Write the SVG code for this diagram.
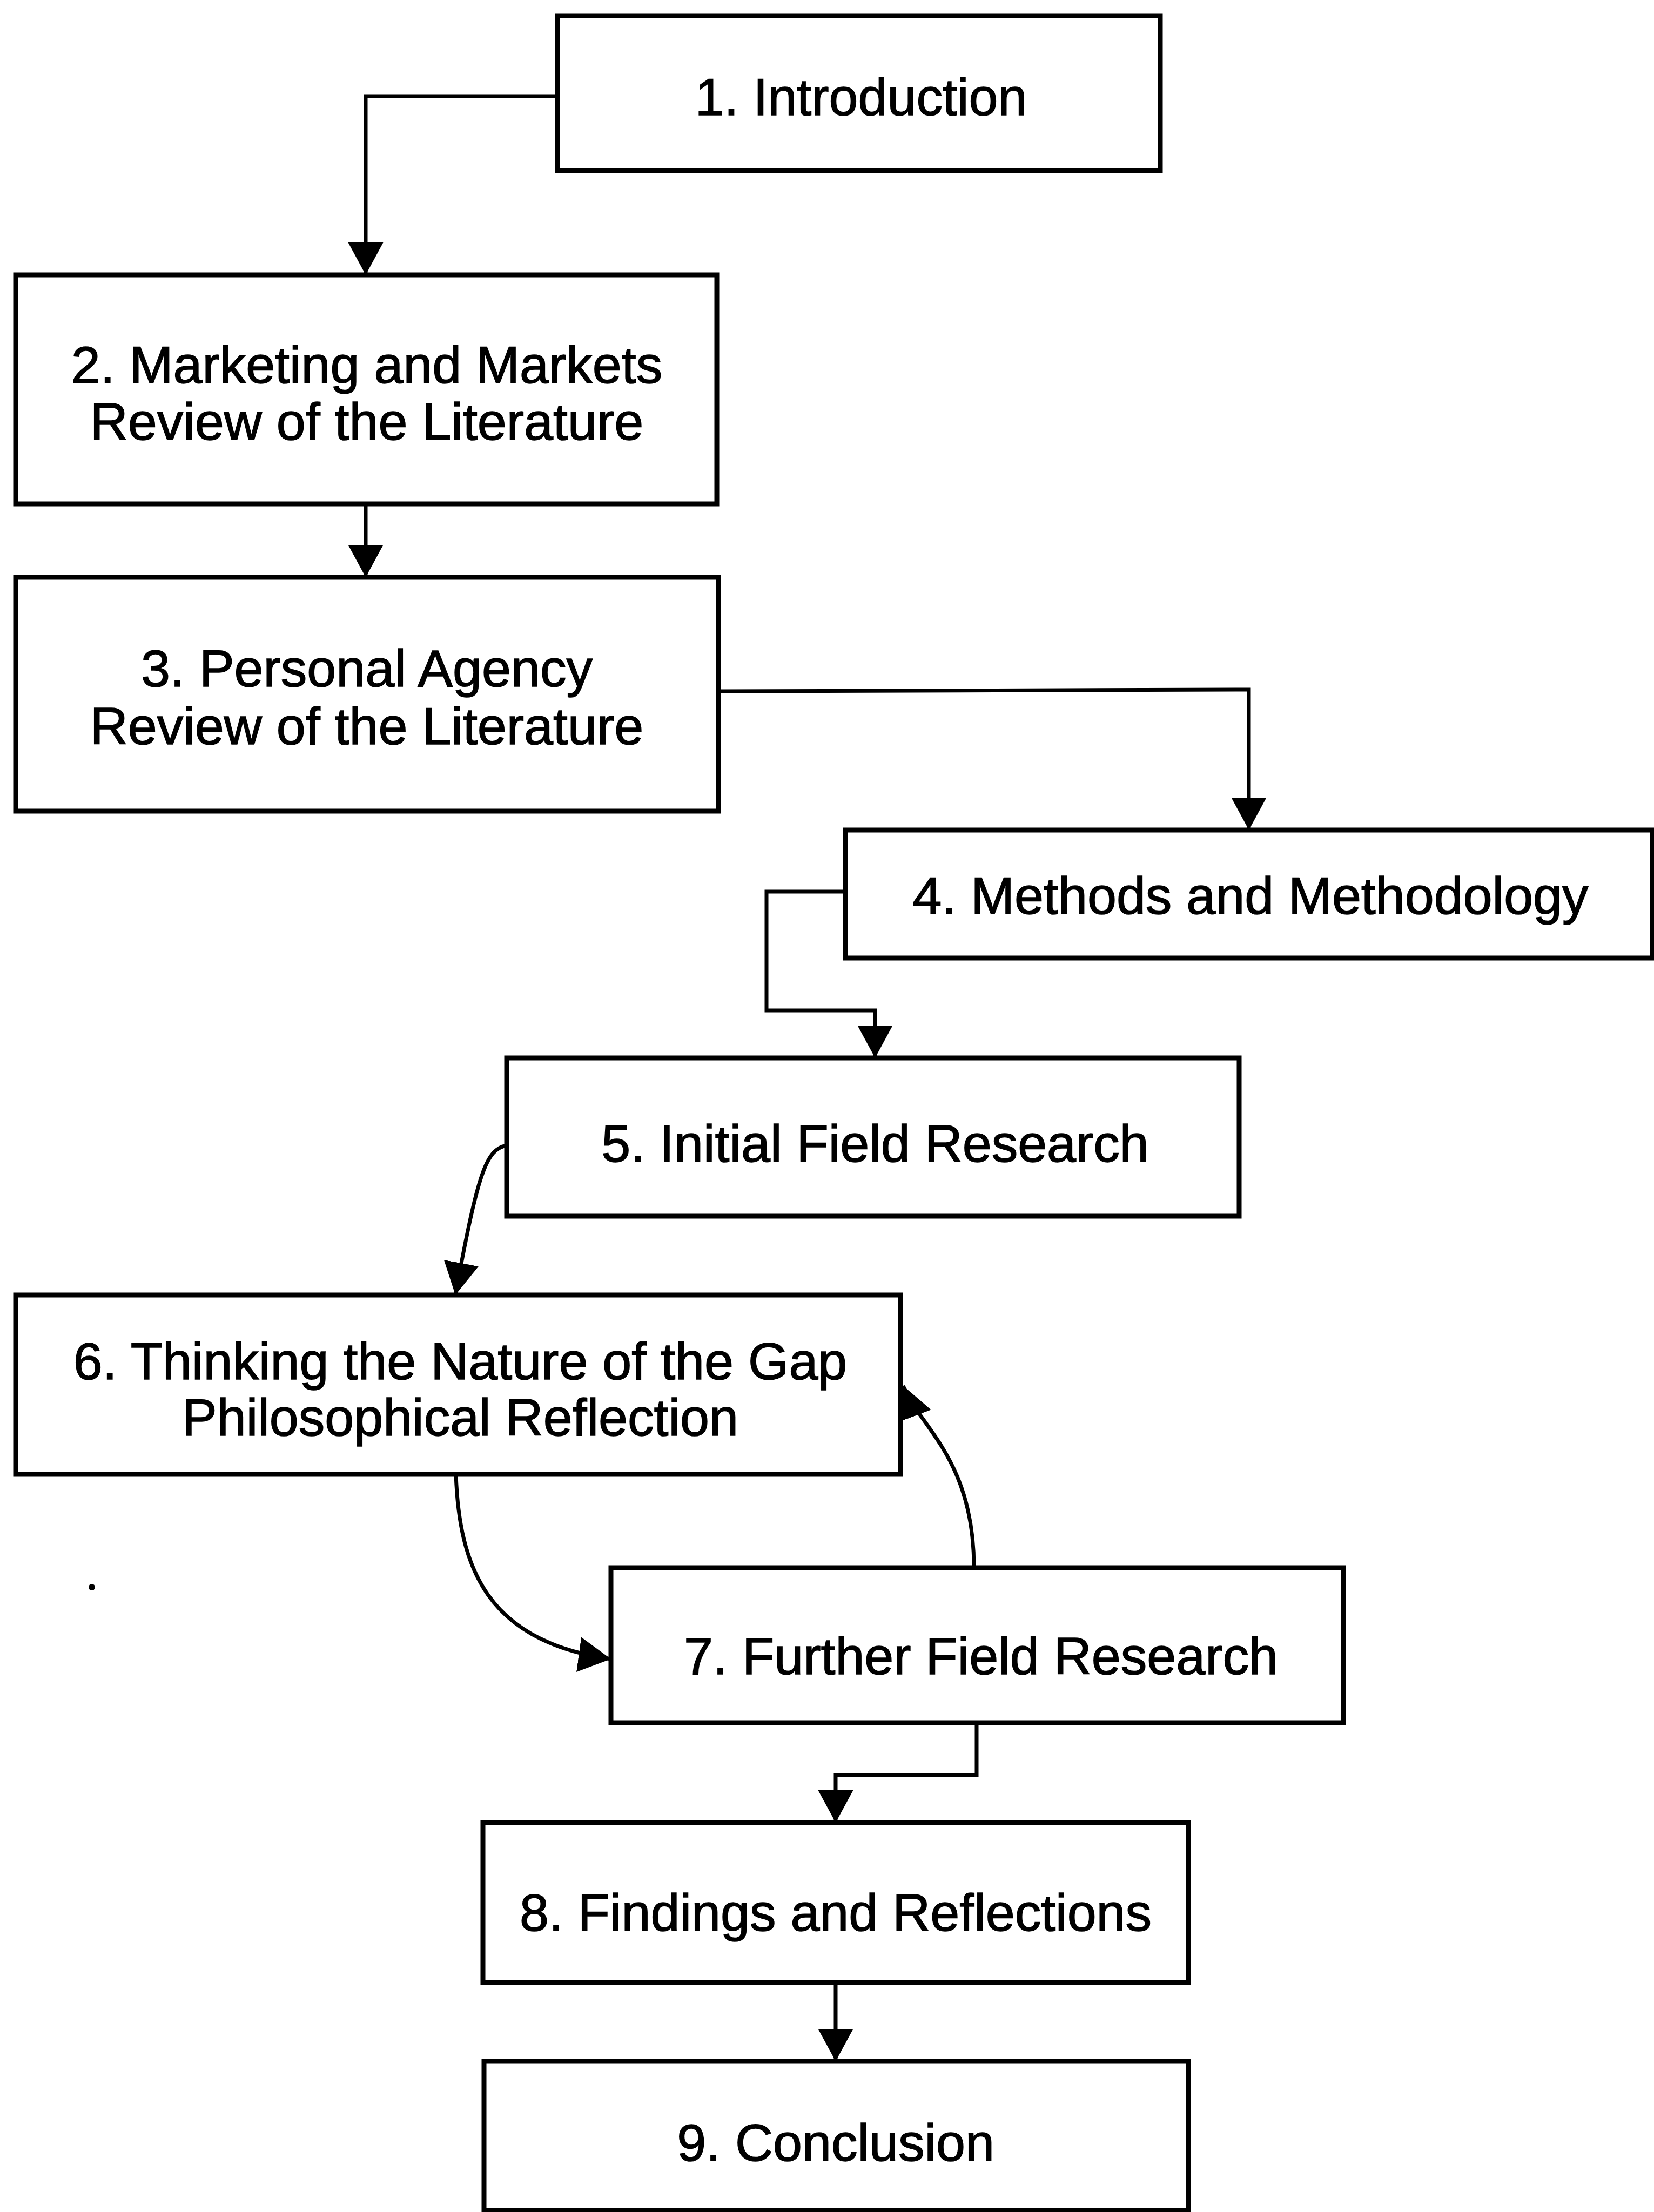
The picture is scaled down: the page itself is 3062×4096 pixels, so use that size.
<svg xmlns="http://www.w3.org/2000/svg" width="3062" height="4096" viewBox="0 0 3062 4096">
<style>
.box{fill:#fff;stroke:#000;stroke-width:9}
.lbl{font-family:"Liberation Sans",Arial,sans-serif;font-size:97px;fill:#000;stroke:#000;stroke-width:1.5;text-anchor:middle}
.con{fill:none;stroke:#000;stroke-width:7}
</style>
<defs>
<marker id="ah" markerUnits="userSpaceOnUse" markerWidth="64" markerHeight="68" refX="60" refY="32.5" orient="auto">
<path d="M0,0 L60,32.5 L0,65 z" fill="#000"/>
</marker>
</defs>
<rect width="3062" height="4096" fill="#fff"/>
<g id="connectors">
<path class="con" d="M1032 178 L677 178 L677 509" marker-end="url(#ah)"/>
<path class="con" d="M677 933 L677 1069" marker-end="url(#ah)"/>
<path class="con" d="M1330 1280 L2312 1277 L2312 1537" marker-end="url(#ah)"/>
<path class="con" d="M1565 1651 L1419 1651 L1419 1871 L1620 1871 L1620 1959" marker-end="url(#ah)"/>
<path class="con" d="M938 2121 C900 2128 885 2170 843 2398" marker-end="url(#ah)"/>
<path class="con" d="M844 2730 C850 2900 900 3040 1131 3072" marker-end="url(#ah)"/>
<path class="con" d="M1803 2903 C1803 2700 1700 2640 1672 2566" marker-end="url(#ah)"/>
<path class="con" d="M1808 3190 L1808 3287 L1547 3287 L1547 3375" marker-end="url(#ah)"/>
<path class="con" d="M1547 3671 L1547 3817" marker-end="url(#ah)"/>
</g>
<g id="n1"><rect class="box" x="1032" y="29" width="1116" height="287"/><text class="lbl" x="1594" y="213">1. Introduction</text></g>
<g id="n2"><rect class="box" x="29" y="509" width="1298" height="424"/><text class="lbl" x="679" y="709">2. Marketing and Markets</text><text class="lbl" x="679" y="814">Review of the Literature</text></g>
<g id="n3"><rect class="box" x="29" y="1069" width="1301" height="433"/><text class="lbl" x="679" y="1271">3. Personal Agency</text><text class="lbl" x="679" y="1378">Review of the Literature</text></g>
<g id="n4"><rect class="box" x="1565" y="1537" width="1494" height="237"/><text class="lbl" x="2315" y="1692">4. Methods and Methodology</text></g>
<g id="n5"><rect class="box" x="938" y="1959" width="1356" height="293"/><text class="lbl" x="1620" y="2151">5. Initial Field Research</text></g>
<g id="n6"><rect class="box" x="29" y="2398" width="1638" height="332"/><text class="lbl" x="852" y="2554">6. Thinking the Nature of the Gap</text><text class="lbl" x="852" y="2658">Philosophical Reflection</text></g>
<g id="n7"><rect class="box" x="1131" y="2903" width="1356" height="287"/><text class="lbl" x="1816" y="3100">7. Further Field Research</text></g>
<g id="n8"><rect class="box" x="894" y="3375" width="1306" height="296"/><text class="lbl" x="1547" y="3575">8. Findings and Reflections</text></g>
<g id="n9"><rect class="box" x="896" y="3817" width="1304" height="276"/><text class="lbl" x="1547" y="4001">9. Conclusion</text></g>
<circle cx="170" cy="2939" r="6" fill="#000"/>
</svg>
